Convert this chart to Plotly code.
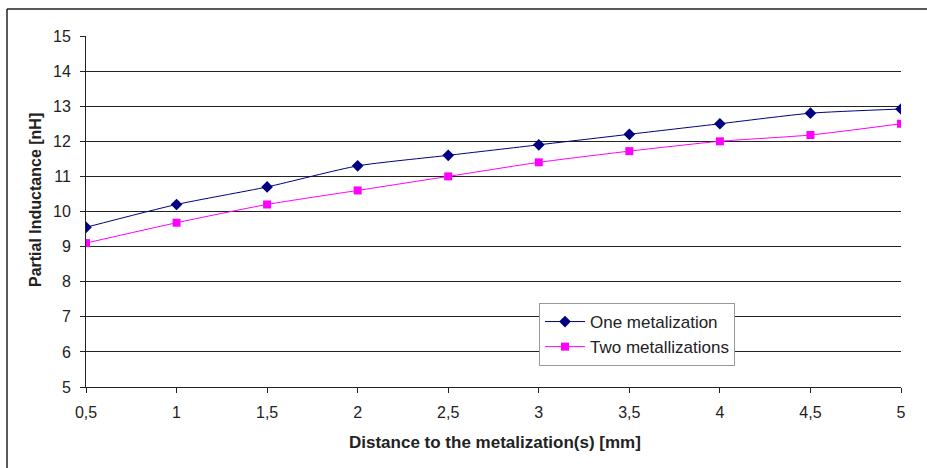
import plotly.graph_objects as go

x_vals = [0.5, 1, 1.5, 2, 2.5, 3, 3.5, 4, 4.5, 5]
one_metal = [9.55, 10.2, 10.7, 11.3, 11.6, 11.9, 12.2, 12.5, 12.8, 12.92]
two_metal = [9.1, 9.68, 10.2, 10.6, 11.0, 11.4, 11.72, 12.0, 12.18, 12.5]
x_tick_vals = [0.5, 1, 1.5, 2, 2.5, 3, 3.5, 4, 4.5, 5]
x_tick_text = ["0,5", "1", "1,5", "2", "2,5", "3", "3,5", "4", "4,5", "5"]
y_tick_vals = [5, 6, 7, 8, 9, 10, 11, 12, 13, 14, 15]
x_title = "Distance to the metalization(s) [mm]"
y_title = "Partial Inductance [nH]"

W, H = 927, 468
L, R, T, B = 86, 26, 36, 81
pw, ph = W - L - R, H - T - B

def px(xp):
    return (xp - L) / pw

def py(yp):
    return (H - B - yp) / ph

fig = go.Figure()
fig.add_trace(go.Scatter(
    x=x_vals, y=one_metal, name="One metalization",
    mode="lines+markers", line=dict(color="#000080", width=1, shape="spline", smoothing=0.6),
    marker=dict(symbol="diamond", size=9, color="#000080"),
))
fig.add_trace(go.Scatter(
    x=x_vals, y=two_metal, name="Two metallizations",
    mode="lines+markers", line=dict(color="#FF00FF", width=1, shape="spline", smoothing=0.6),
    marker=dict(symbol="square", size=8, color="#FF00FF"),
))

fig.update_layout(
    width=W, height=H,
    margin=dict(l=L, r=R, t=T, b=B, autoexpand=False),
    paper_bgcolor="white", plot_bgcolor="white",
    font=dict(family="Liberation Sans, Arial", size=16, color="#222222"),
    showlegend=True,
    legend=dict(
        x=px(539), y=py(303), xanchor="left", yanchor="top",
        bgcolor="white", bordercolor="#999999", borderwidth=1,
        font=dict(size=17, color="#222222"),
        tracegroupgap=0, itemwidth=40,
    ),
    xaxis=dict(
        range=[0.5, 5], tickvals=x_tick_vals, ticktext=x_tick_text,
        showgrid=False, zeroline=False, automargin=False,
        showline=True, linecolor="#222222", linewidth=1,
        ticks="outside", ticklen=5, tickcolor="#222222",
        tickfont=dict(size=16), ticklabelstandoff=6,
    ),
    yaxis=dict(
        range=[5, 15], tickvals=y_tick_vals,
        showgrid=True, gridcolor="#222222", gridwidth=1, zeroline=False, automargin=False,
        showline=True, linecolor="#222222", linewidth=1,
        ticks="outside", ticklen=5, tickcolor="#222222",
        tickfont=dict(size=16), ticklabelstandoff=6,
    ),
    annotations=[
        dict(text="<b>" + x_title + "</b>", xref="paper", yref="paper",
             x=px(495), y=py(442), xanchor="center", yanchor="middle",
             showarrow=False, font=dict(size=17, color="#222222")),
        dict(text="<b>" + y_title + "</b>", xref="paper", yref="paper",
             x=px(35), y=py(200), xanchor="center", yanchor="middle", textangle=-90,
             showarrow=False, font=dict(size=16, color="#222222")),
    ],
    shapes=[
        dict(type="line", xref="paper", yref="paper", x0=px(7), x1=px(7), y0=py(9), y1=py(470),
             line=dict(color="#222222", width=1.5)),
        dict(type="line", xref="paper", yref="paper", x0=px(7), x1=px(930), y0=py(9), y1=py(9),
             line=dict(color="#222222", width=1.5)),
    ],
)

fig.write_html("out.html", config={"displayModeBar": False},
               post_script="document.body.style.margin='0';document.body.style.overflow='hidden';")
